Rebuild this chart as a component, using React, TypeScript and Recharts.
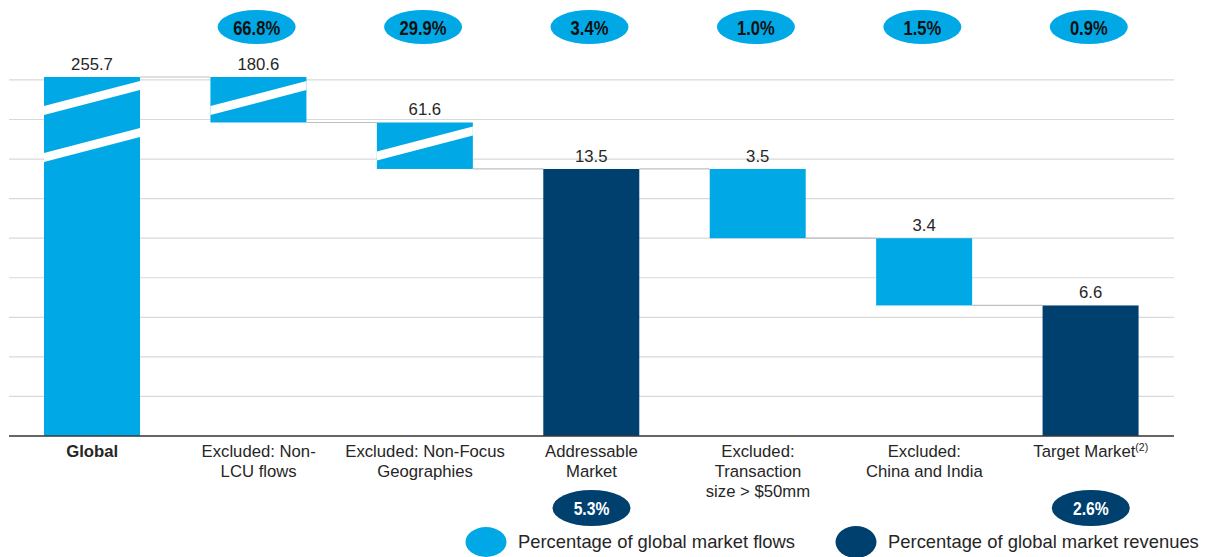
import React from "react";
import { ComposedChart, Bar, XAxis, YAxis, CartesianGrid } from "recharts";

// ---------- data ----------
const categories = [
  "Global",
  "Excluded: Non-LCU flows",
  "Excluded: Non-Focus Geographies",
  "Addressable Market",
  "Excluded: Transaction size > $50mm",
  "Excluded: China and India",
  "Target Market",
];
const tickLines: string[][] = [
  ["Global"],
  ["Excluded: Non-", "LCU flows"],
  ["Excluded: Non-Focus", "Geographies"],
  ["Addressable", "Market"],
  ["Excluded:", "Transaction", "size > $50mm"],
  ["Excluded:", "China and India"],
  ["Target Market"],
];
const values = [255.7, 180.6, 61.6, 13.5, 3.5, 3.4, 6.6];
const barKinds = ["flowTotal", "decrease", "decrease", "revenueTotal", "decrease", "decrease", "revenueTotal"];
// heights as drawn on the broken axis (first three bars are compressed by the axis break)
const drawnValues = [18.15, 2.3, 2.35, 13.5, 3.5, 3.4, 6.6];
const breakMarks = [2, 1, 1, 0, 0, 0, 0];
const flowShares = [null, "66.8%", "29.9%", "3.4%", "1.0%", "1.5%", "0.9%"];
const revenueShares = [null, null, null, "5.3%", null, null, "2.6%"];
const yTicks = [0, 2, 4, 6, 8, 10, 12, 14, 16, 18];
const legendItems = [
  { label: "Percentage of global market flows", kind: "flow" },
  { label: "Percentage of global market revenues", kind: "revenue" },
];

// ---------- style ----------
const LIGHT = "#00A9E6";
const DARK = "#00406F";
const FONT = "'Liberation Sans', Arial, sans-serif";
const W = 1207;
const H = 557;
const MARGIN = { top: 40.4, right: 33, bottom: 91, left: 9 };
const X_AXIS_H = 30;
const PLOT_BOTTOM = H - MARGIN.bottom - X_AXIS_H;
const BAR_SIZE = 96;
const BAND = (W - MARGIN.left - MARGIN.right) / categories.length;

let running = 0;
const data = categories.map((name, i) => {
  const h = drawnValues[i];
  let base = 0;
  if (barKinds[i] === "decrease") {
    base = running - h;
    running = base;
  } else {
    base = 0;
    running = h;
  }
  return { name, base, delta: h, idx: i };
});

const BarShape = (props: any) => {
  const { x, y, width, height, payload } = props;
  const i = payload.idx;
  const kind = barKinds[i];
  const fill = kind === "revenueTotal" ? DARK : LIGHT;
  const stripes = [];
  for (let k = 0; k < breakMarks[i]; k++) {
    const o = k * 47;
    stripes.push(
      <polygon
        key={k}
        points={`${x},${y + 29 + o} ${x + width},${y + 4 + o} ${x + width},${y + 13 + o} ${x},${y + 38 + o}`}
        fill="#ffffff"
      />
    );
  }
  const connY = kind === "decrease" ? y + height : y;
  const gap = BAND - width;
  return (
    <g>
      <rect x={x} y={y} width={width} height={height} fill={fill} />
      {stripes}
      {i < categories.length - 1 && (
        <line x1={x + width} x2={x + width + gap} y1={connY} y2={connY} stroke="#bfbfbf" strokeWidth={1.2} />
      )}
      <text
        x={x + width / 2}
        y={y - 7}
        textAnchor="middle"
        fontFamily={FONT}
        fontSize={16.7}
        fill="#262626"
      >
        {values[i].toFixed(1)}
      </text>
    </g>
  );
};

const Pill = ({ cx, cy, rx, ry, fill, color, label, size, scale, dy }: any) => (
  <g>
    <ellipse cx={cx} cy={cy} rx={rx} ry={ry} fill={fill} />
    <text
      transform={`translate(${cx},${cy + dy}) scale(${scale},1)`}
      textAnchor="middle"
      fontFamily={FONT}
      fontWeight="bold"
      fontSize={size}
      fill={color}
    >
      {label}
    </text>
  </g>
);

const renderTick = (props: any) => {
  const { x, payload } = props;
  const i = payload && payload.index != null ? payload.index : categories.indexOf(payload.value);
  const lines = tickLines[i] || [];
  const isTarget = i === categories.length - 1;
  return (
    <g>
      {lines.map((l, k) => (
        <text
          key={k}
          x={x}
          y={PLOT_BOTTOM + 21 + 20 * k}
          textAnchor="middle"
          fontFamily={FONT}
          fontSize={16.7}
          fontWeight={i === 0 ? "bold" : "normal"}
          fill="#262626"
        >
          {l}
          {isTarget && (
            <tspan fontSize={10.5} dy={-6}>
              (2)
            </tspan>
          )}
        </text>
      ))}
      {flowShares[i] && (
        <Pill cx={x - 2} cy={27} rx={39} ry={17} fill={LIGHT} color="#111111" label={flowShares[i]} size={20} scale={0.83} dy={8} />
      )}
      {revenueShares[i] && (
        <Pill cx={x} cy={508} rx={39} ry={18} fill={DARK} color="#ffffff" label={revenueShares[i]} size={18} scale={0.87} dy={6.5} />
      )}
    </g>
  );
};

const gridLine = (props: any) => {
  const { x1, x2, y1, y2, index } = props;
  // skip the frame line at the top edge of the plot area (not a tick)
  if (y1 < MARGIN.top + 2) return <g key={`g-${index}`} />;
  return <line key={`g-${index}`} x1={x1} x2={x2} y1={y1} y2={y2} stroke="#d9d9d9" strokeWidth={1.2} />;
};

export default function App() {
  return (
    <div style={{ position: "absolute", left: 0, top: 0, width: W, height: H, background: "#fff" }}>
      <ComposedChart width={W} height={H} data={data} margin={MARGIN} barCategoryGap={0}>
        <CartesianGrid horizontal={gridLine} vertical={false} horizontalValues={yTicks} stroke="#d9d9d9" />
        <YAxis hide domain={[0, 20]} ticks={yTicks} type="number" />
        <XAxis
          dataKey="name"
          height={X_AXIS_H}
          interval={0}
          tickLine={false}
          axisLine={{ stroke: "#3a3a3a", strokeWidth: 1.3 }}
          tick={renderTick}
        />
        <Bar dataKey="base" stackId="w" fill="transparent" barSize={BAR_SIZE} isAnimationActive={false} />
        <Bar dataKey="delta" stackId="w" barSize={BAR_SIZE} shape={BarShape} isAnimationActive={false} />
      </ComposedChart>
      <div
        style={{
          position: "absolute",
          left: 465,
          top: 526,
          display: "flex",
          alignItems: "center",
          fontFamily: FONT,
          fontSize: 18.4,
          color: "#262626",
          whiteSpace: "nowrap",
        }}
      >
        {legendItems.map((it, k) => (
          <div key={k} style={{ display: "flex", alignItems: "center", marginLeft: k === 0 ? 0 : 40 }}>
            <svg width={42} height={32}>
              <ellipse cx={21} cy={16} rx={20.5} ry={it.kind === "flow" ? 15 : 16} fill={it.kind === "flow" ? LIGHT : DARK} />
            </svg>
            <span style={{ marginLeft: 11 }}>{it.label}</span>
          </div>
        ))}
      </div>
    </div>
  );
}
